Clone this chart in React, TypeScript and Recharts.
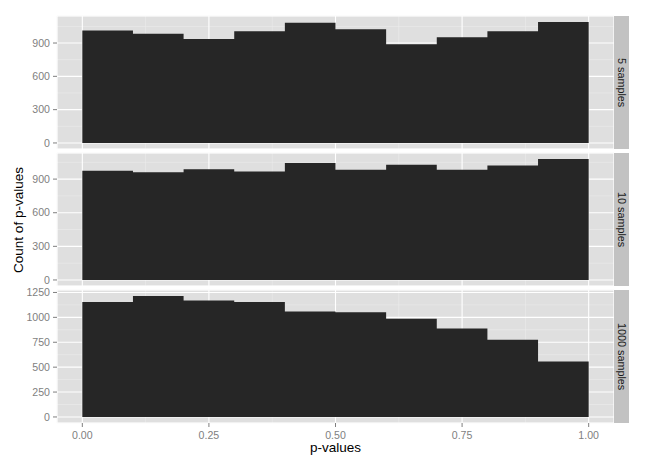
import React from 'react';
import { AreaChart, Area, XAxis, YAxis, CartesianGrid } from 'recharts';

// histogram bins (binwidth 0.1), counts
const binStarts = [0, 0.1, 0.2, 0.3, 0.4, 0.5, 0.6, 0.7, 0.8, 0.9];
const binEnd = 1.0;
const counts5 = [1013, 984, 936, 1005, 1083, 1023, 888, 951, 1005, 1089];
const counts10 = [974, 962, 989, 968, 1043, 983, 1028, 983, 1022, 1079];
const counts1000 = [1153, 1214, 1169, 1153, 1058, 1052, 985, 888, 776, 558];
const facetLabels = ['5 samples', '10 samples', '1000 samples'];

const xTicks = [0, 0.25, 0.5, 0.75, 1.0];
const xMinorTicks = [0.125, 0.375, 0.625, 0.875];
const yTicksSmall = [0, 300, 600, 900];
const yMinorSmall = [150, 450, 750, 1050];
const yTicksLarge = [0, 250, 500, 750, 1000, 1250];
const yMinorLarge = [125, 375, 625, 875, 1125];

const X_DOMAIN: [number, number] = [-0.05, 1.05];
const PANEL_LEFT = 57;
const PANEL_RIGHT = 614;
const PANEL_H = 133;
const STRIP_W = 15;
const X_AXIS_H = 24;
const PAD = 8; // room above the panel so edge tick labels are not clipped

const FONT = '"Liberation Sans", Arial, Helvetica, sans-serif';
const PANEL_BG = '#DFDFDF';
const MINOR_GRID = '#ECECEC';
const BAR = '#262626';
const STRIP_BG = '#C2C2C2';
const TICK_COL = '#7F7F7F';

// step area over bin edges; last edge closes the final bin
const toHist = (counts: number[]) =>
  binStarts
    .map((x, i) => ({ x, count: counts[i] }))
    .concat({ x: binEnd, count: counts[counts.length - 1] });

interface FacetProps {
  counts: number[];
  yTicks: number[];
  yMinor: number[];
  label: string;
  top: number;
  showX?: boolean;
}

function Facet({ counts, yTicks, yMinor, label, top, showX = false }: FacetProps) {
  const data = toHist(counts);
  const max = Math.max(...counts);
  const yDomain: [number, number] = [-0.05 * max, 1.05 * max];
  const h = PAD + PANEL_H + (showX ? X_AXIS_H : 0);

  return (
    <>
      <div style={{ position: 'absolute', left: 0, top: top - PAD }}>
        <AreaChart
          width={PANEL_RIGHT}
          height={h}
          data={data}
          margin={{ top: PAD, right: 0, bottom: 0, left: 0 }}
        >
          <XAxis
            xAxisId="minor"
            type="number"
            dataKey="x"
            domain={X_DOMAIN}
            ticks={xMinorTicks}
            allowDataOverflow
            hide
          />
          <YAxis
            yAxisId="minor"
            type="number"
            domain={yDomain}
            ticks={yMinor}
            allowDataOverflow
            hide
          />
          <CartesianGrid
            xAxisId="minor"
            yAxisId="minor"
            fill={PANEL_BG}
            fillOpacity={1}
            stroke={MINOR_GRID}
            strokeWidth={0.6}
          />
          <CartesianGrid stroke="#FFFFFF" strokeWidth={1.1} />
          <XAxis
            type="number"
            dataKey="x"
            domain={X_DOMAIN}
            ticks={xTicks}
            interval={0}
            allowDataOverflow
            hide={!showX}
            height={X_AXIS_H}
            axisLine={false}
            tickSize={4}
            tickMargin={4}
            tickLine={{ stroke: TICK_COL }}
            tick={{ fill: TICK_COL, fontSize: 10.6, fontFamily: FONT }}
            tickFormatter={(v: number) => v.toFixed(2)}
          />
          <YAxis
            type="number"
            domain={yDomain}
            ticks={yTicks}
            interval={0}
            allowDataOverflow
            width={PANEL_LEFT}
            axisLine={false}
            tickSize={4}
            tickMargin={3}
            tickLine={{ stroke: TICK_COL }}
            tick={{ fill: TICK_COL, fontSize: 10.6, fontFamily: FONT }}
          />
          <Area
            type="stepAfter"
            dataKey="count"
            fill={BAR}
            fillOpacity={1}
            stroke="none"
            baseValue={0}
            dot={false}
            activeDot={false}
            isAnimationActive={false}
          />
        </AreaChart>
      </div>
      <div
        style={{
          position: 'absolute',
          left: PANEL_RIGHT,
          top,
          width: STRIP_W,
          height: PANEL_H,
          background: STRIP_BG,
          display: 'flex',
          alignItems: 'center',
          justifyContent: 'center',
        }}
      >
        <span
          style={{
            writingMode: 'vertical-rl',
            fontSize: 10.8,
            color: '#1A1A1A',
            fontFamily: FONT,
            whiteSpace: 'nowrap',
          }}
        >
          {label}
        </span>
      </div>
    </>
  );
}

export default function App() {
  return (
    <div
      style={{
        position: 'absolute',
        left: 0,
        top: 0,
        width: 646,
        height: 463,
        background: '#FFFFFF',
        fontFamily: FONT,
      }}
    >
      <Facet counts={counts5} yTicks={yTicksSmall} yMinor={yMinorSmall} label={facetLabels[0]} top={16} />
      <Facet counts={counts10} yTicks={yTicksSmall} yMinor={yMinorSmall} label={facetLabels[1]} top={153} />
      <Facet
        counts={counts1000}
        yTicks={yTicksLarge}
        yMinor={yMinorLarge}
        label={facetLabels[2]}
        top={290}
        showX
      />
      <div
        style={{
          position: 'absolute',
          left: 18,
          top: 219.5,
          transform: 'translate(-50%, -50%) rotate(-90deg)',
          fontSize: 13.5,
          color: '#000',
          whiteSpace: 'nowrap',
        }}
      >
        Count of p-values
      </div>
      <div
        style={{
          position: 'absolute',
          left: (PANEL_LEFT + PANEL_RIGHT) / 2,
          top: 447,
          transform: 'translate(-50%, -50%)',
          fontSize: 13.5,
          color: '#000',
          whiteSpace: 'nowrap',
        }}
      >
        p-values
      </div>
    </div>
  );
}
